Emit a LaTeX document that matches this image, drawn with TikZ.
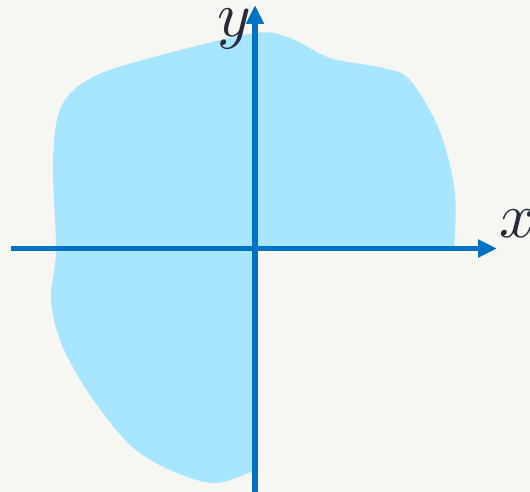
\documentclass[tikz,border=0pt]{standalone}
\usetikzlibrary{arrows.meta}

\definecolor{paper}{RGB}{246,247,242}
\definecolor{regionblue}{RGB}{168,230,255}
\definecolor{axisblue}{RGB}{0,114,198}
\definecolor{labelink}{RGB}{38,44,56}

\tikzset{
  axis/.style={draw=axisblue, line width=5.5pt, -{Triangle[length=19pt,width=17pt]}},
  region/.style={fill=regionblue},
  lbl/.style={text=labelink, scale=6.4, inner sep=0pt, anchor=base}
}

\begin{document}
\begin{tikzpicture}[x=1pt,y=-1pt]

            % Page and background
            \useasboundingbox (0,0) rectangle (530,492);
            \fill[paper] (0,0) rectangle (530,492);

            % The region, cut off along the positive x half and lower y half
            \fill[region] plot [smooth, tension=0.55] coordinates {(255,470) (215,483) (170,470) (130,445) (90,395) (62,345) (51,300) (56,250) (53,160) (62,105) (97,75) (173,52) (255,33) (290,38) (330,58) (383,68) (410,80) (440,132) (455,193) (454,249)}
                -- (255,249) -- cycle;

            % Axis end points
            \coordinate (xstart) at (11,248.5);
            \coordinate (xend) at (497,248.5);
            \coordinate (ystart) at (255,492);
            \coordinate (yend) at (255,5);

            % Axes
            \draw[axis] (xstart) -- (xend);
            \draw[axis] (ystart) -- (yend);

            % Axis labels
            \node[lbl] (xlbl) at (518,237) {$x$};
            \node[lbl] (ylbl) at (234,37) {$y$};

\end{tikzpicture}
\end{document}
